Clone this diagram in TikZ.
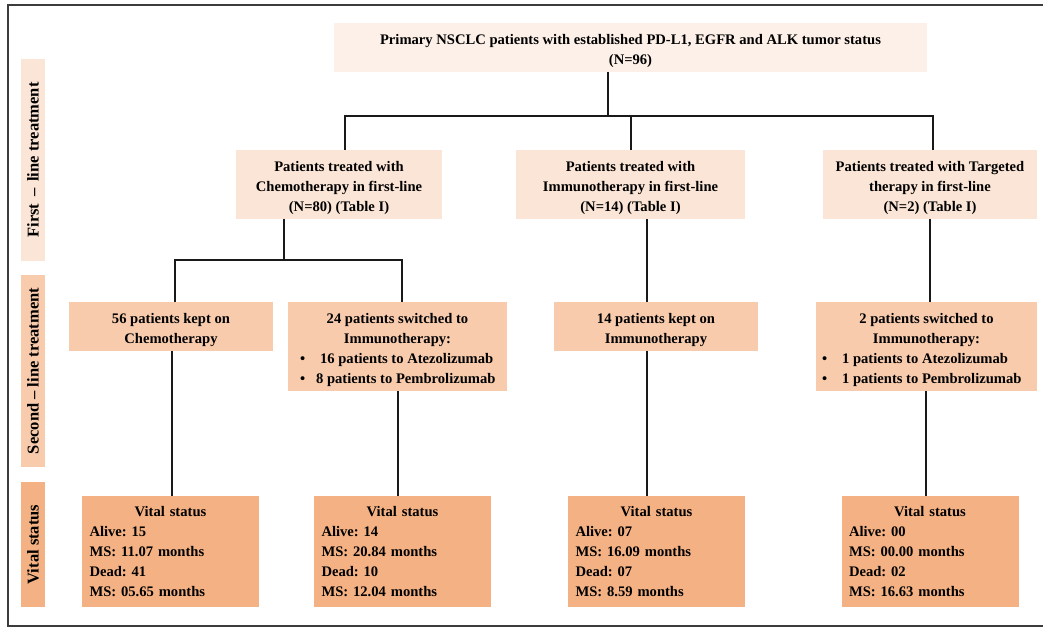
\documentclass[tikz,border=0pt]{standalone}
\usepackage{fontspec}
\setmainfont{Liberation Serif}
\frenchspacing
\definecolor{cTop}{HTML}{FDF0E8}
\definecolor{cOne}{HTML}{FBE5D6}
\definecolor{cTwo}{HTML}{F8CBAD}
\definecolor{cThree}{HTML}{F4B183}
\definecolor{cFrame}{HTML}{3C3C3C}
\newcommand{\myTopStrut}{\rule{0pt}{17pt}}
\begin{document}
\begin{tikzpicture}[x=1pt,y=-1pt,
  every node/.style={inner sep=0pt,outer sep=0pt,font=\fontsize{14.6}{20}\selectfont\bfseries,text=black},
  box/.style={rectangle,align=center},
  topbox/.style={box,fill=cTop},
  onebox/.style={box,fill=cOne},
  twobox/.style={box,fill=cTwo},
  vitalbox/.style={rectangle,fill=cThree,align=left,inner xsep=7.5pt,minimum width=177pt,minimum height=111pt,text width=162pt},
  sidelab/.style={rectangle,rotate=90,minimum height=24pt,font=\fontsize{16.5}{20}\selectfont\bfseries},
  conn/.style={draw=black!90,line width=1.6pt}]
\useasboundingbox (0,0) rectangle (1043,628);
\fill[white] (0,0) rectangle (1043,628);
\draw[cFrame,line width=1.5pt] (1045,5) -- (8,5) -- (8,626) -- (1045,626);

% side labels
\node[sidelab,fill=cOne,minimum width=202pt] (lab1) at (33,160) {First \,--\, line treatment};
\node[sidelab,fill=cTwo,minimum width=192pt] (lab2) at (33,371) {Second -- line treatment};
\node[sidelab,fill=cThree,minimum width=125pt] (lab3) at (33,544.5) {Vital status};

% boxes
\node[topbox,minimum width=593pt,minimum height=49pt] (top) at (630.5,47.5) {\rule{0pt}{18pt}Primary NSCLC patients with established PD-L1, EGFR and ALK tumor status\\(N=96)};
\node[onebox,minimum width=206pt,minimum height=69pt] (chemo) at (339,184.5) {\myTopStrut Patients treated with\\Chemotherapy in first-line\\(N=80) (Table I)};
\node[onebox,minimum width=229pt,minimum height=69pt] (immuno) at (630.5,184.5) {\myTopStrut Patients treated with\\Immunotherapy in first-line\\(N=14) (Table I)};
\node[onebox,minimum width=214pt,minimum height=69pt] (targ) at (930,184.5) {\myTopStrut Patients treated with Targeted\\therapy in first-line\\(N=2) (Table I)};

\node[twobox,minimum width=204pt,minimum height=49pt] (keepA) at (171,326.5) {\myTopStrut 56 patients kept on\\Chemotherapy};
\node[twobox,minimum width=219pt,minimum height=89pt] (swA) at (397.5,346.5) {\myTopStrut 24 patients switched to\\Immunotherapy:\\\makebox[195pt][l]{\textbullet\hspace{15pt}16 patients to Atezolizumab}\\\makebox[195pt][l]{\textbullet\hspace{11pt}8 patients to Pembrolizumab}};
\node[twobox,minimum width=204pt,minimum height=49pt] (keepB) at (656,326.5) {\myTopStrut 14 patients kept on\\Immunotherapy};
\node[twobox,minimum width=221pt,minimum height=89pt] (swB) at (926.5,346.5) {\myTopStrut 2 patients switched to\\Immunotherapy:\\\makebox[209pt][l]{\textbullet\hspace{15pt}1 patients to Atezolizumab}\\\makebox[209pt][l]{\textbullet\hspace{15pt}1 patients to Pembrolizumab}};

\node[vitalbox] (vA) at (170.5,551.5) {\makebox[\linewidth]{Vital status}\\Alive: 15\\MS: 11.07 months\\Dead: 41\\MS: 05.65 months};
\node[vitalbox] (vB) at (402.5,551.5) {\makebox[\linewidth]{Vital status}\\Alive: 14\\MS: 20.84 months\\Dead: 10\\MS: 12.04 months};
\node[vitalbox] (vC) at (656.5,551.5) {\makebox[\linewidth]{Vital status}\\Alive: 07\\MS: 16.09 months\\Dead: 07\\MS: 8.59 months};
\node[vitalbox] (vD) at (930,551.5) {\makebox[\linewidth]{Vital status}\\Alive: 00\\MS: 00.00 months\\Dead: 02\\MS: 16.63 months};

% connectors
\coordinate (busTop) at (608,116);
\draw[conn] ([xshift=-22.5pt]top.south) -- (busTop);
\draw[conn] ([xshift=6pt]chemo.north) |- (busTop) -| ([xshift=3pt]targ.north);
\draw[conn] ([xshift=0.5pt]immuno.north) -- ([xshift=0.5pt]immuno.north |- busTop);
\coordinate (busChemo) at (284,260);
\draw[conn] ([xshift=-55pt]chemo.south) -- (busChemo);
\draw[conn] ([xshift=4pt]keepA.north) |- (busChemo) -| ([xshift=4.5pt]swA.north);
\draw[conn] ([xshift=16.5pt]immuno.south) -- ([xshift=-9pt]keepB.north);
\draw[conn] (targ.south) -- (targ.south |- swB.north);
\draw[conn] ([xshift=1pt]keepA.south) -- ([xshift=1pt]keepA.south |- vA.north);
\draw[conn] ([xshift=0.5pt]swA.south) -- ([xshift=0.5pt]swA.south |- vB.north);
\draw[conn] ([xshift=-9pt]keepB.south) -- ([xshift=-9pt]keepB.south |- vC.north);
\draw[conn] ([xshift=-0.5pt]swB.south) -- ([xshift=-0.5pt]swB.south |- vD.north);
\end{tikzpicture}
\end{document}
